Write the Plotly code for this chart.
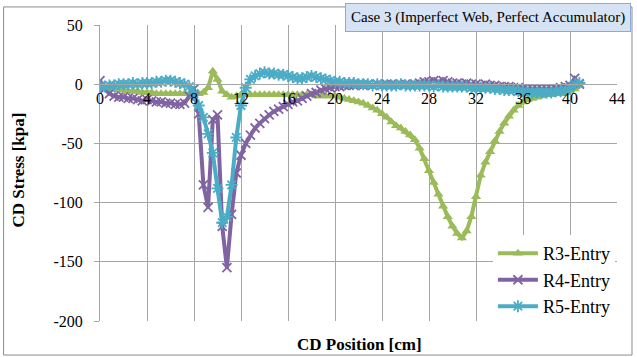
import plotly.graph_objects as go

# CD position along the web [cm]
cd_position = [
    0.0, 0.4, 0.8, 1.2, 1.6, 2.0, 2.4, 2.8, 3.2, 3.6,
    4.0, 4.4, 4.8, 5.2, 5.6, 6.0, 6.4, 6.8, 7.2, 7.6,
    8.0, 8.4, 8.8, 9.2, 9.6, 10.0, 10.4, 10.8, 11.2, 11.6,
    12.0, 12.4, 12.8, 13.2, 13.6, 14.0, 14.4, 14.8, 15.2, 15.6,
    16.0, 16.4, 16.8, 17.2, 17.6, 18.0, 18.4, 18.8, 19.2, 19.6,
    20.0, 20.4, 20.8, 21.2, 21.6, 22.0, 22.4, 22.8, 23.2, 23.6,
    24.0, 24.4, 24.8, 25.2, 25.6, 26.0, 26.4, 26.8, 27.2, 27.6,
    28.0, 28.4, 28.8, 29.2, 29.6, 30.0, 30.4, 30.8, 31.2, 31.6,
    32.0, 32.4, 32.8, 33.2, 33.6, 34.0, 34.4, 34.8, 35.2, 35.6,
    36.0, 36.4, 36.8, 37.2, 37.6, 38.0, 38.4, 38.8, 39.2, 39.6,
    40.0, 40.4, 40.8,
]

# CD stress [kPa] per roller entry
r3_entry = [
    -2, -3, -4, -4, -5, -5, -6, -6, -6, -7,
    -7, -7, -8, -8, -8, -8, -8, -8, -8, -8,
    -8, -8, -7, -3, 11, 4, -6, -9, -11, -10,
    -9, -9, -9, -9, -9, -9, -9, -9, -9, -9,
    -9, -9, -9, -9, -9, -9, -10, -10, -10, -10,
    -10, -11, -12, -13, -14, -15, -16, -18, -20, -22,
    -25, -28, -32, -35, -37, -40, -43, -47, -54, -63,
    -73, -83, -93, -103, -112, -120, -126, -130, -124, -112,
    -95, -77, -66, -57, -48, -40, -33, -27, -22, -18,
    -15, -13, -12, -11, -10, -9, -9, -8, -8, -7,
    -6, -4, -1,
]

r4_entry = [
    3, -4, -8, -10, -11, -11, -12, -12, -13, -14,
    -13, -14, -15, -15, -16, -16, -17, -17, -16, -10,
    -4, -25, -85, -104, -30, -26, -120, -155, -110, -75,
    -60, -50, -43, -37, -33, -29, -26, -23, -21, -19,
    -17, -15, -14, -12, -10, -8, -7, -5, -4, -3,
    -2, -2, -1, -1, -1, 0, -1, 0, -1, 0,
    -1, 0, 0, -1, 0, 0, -1, 0, 1, 2,
    2, 3, 2, 3, 2, 1, 1, 0, 1, 0,
    0, -1, 0, -1, -1, -2, -2, -2, -3, -3,
    -4, -4, -4, -4, -4, -4, -4, -4, -3, -2,
    -1, 5, 0,
]

r5_entry = [
    -2, -2, -1, -1, 0, 0, 0, 1, 0, 1,
    1, 1, 2, 2, 3, 3, 2, 1, 0, -2,
    -8, -18, -28, -42, -58, -88, -117, -112, -85, -45,
    -18, -3, 4, 7, 9, 10, 9, 9, 8, 8,
    7, 6, 5, 5, 6, 7, 6, 5, 4, 3,
    2, 2, 1, 1, 1, 0, 0, 0, -1, 0,
    -1, -1, -1, -1, 0, -1, -1, -1, -1, -1,
    -1, -2, -1, -2, -2, -2, -2, -2, -2, -3,
    -3, -3, -3, -3, -4, -4, -5, -5, -5, -6,
    -6, -7, -7, -7, -7, -7, -7, -6, -6, -5,
    -3, 0, 1,
]

x_ticks = [0, 4, 8, 12, 16, 20, 24, 28, 32, 36, 40, 44]
y_ticks = [50, 0, -50, -100, -150, -200]

FONT = "Times New Roman, Liberation Serif, DejaVu Serif, serif"
GRID = "#A6A6A6"

series = [
    ("R3-Entry", r3_entry, "#9BBB59", "triangle-up", 9, 0),
    ("R4-Entry", r4_entry, "#8064A2", "x-thin-open", 9, 1.8),
    ("R5-Entry", r5_entry, "#4BACC6", "asterisk-open", 10, 1.8),
]

fig = go.Figure()
for name, values, color, symbol, size, lw in series:
    fig.add_trace(go.Scatter(
        x=cd_position, y=values, name=name, mode="lines+markers",
        line=dict(color=color, width=4),
        marker=dict(symbol=symbol, size=size, color=color,
                    line=dict(color=color, width=lw)),
    ))

fig.update_layout(
    width=637, height=357,
    margin=dict(l=100, r=17, t=25, b=36),
    paper_bgcolor="white", plot_bgcolor="white",
    font=dict(family=FONT, size=17, color="black"),
    showlegend=True,
    legend=dict(
        x=0.76, y=0.29, xanchor="left", yanchor="top",
        bgcolor="white", borderwidth=0,
        font=dict(family=FONT, size=18, color="black"),
        itemwidth=40, tracegroupgap=0,
    ),
    xaxis=dict(
        range=[0, 44], tickvals=x_ticks, ticktext=[str(t) for t in x_ticks],
        showgrid=True, gridcolor=GRID, gridwidth=1,
        zeroline=False, showline=True, linecolor=GRID, linewidth=1,
        anchor="free", position=0.8, ticks="",
        tickfont=dict(family=FONT, size=16),
    ),
    yaxis=dict(
        range=[-200, 50], tickvals=y_ticks, ticktext=[str(t) for t in y_ticks],
        showgrid=True, gridcolor=GRID, gridwidth=1,
        zeroline=False, showline=True, linecolor=GRID, linewidth=1,
        ticks="outside", ticklen=5, tickcolor=GRID,
        ticklabelstandoff=8,
        tickfont=dict(family=FONT, size=16),
    ),
)

# axis titles
fig.add_annotation(
    text="<b>CD Stress [kpa]</b>", textangle=-90, showarrow=False,
    xref="paper", yref="paper", x=-0.1577, y=0.51,
    xanchor="center", yanchor="middle",
    font=dict(family=FONT, size=17, color="black"),
)
fig.add_annotation(
    text="<b>CD Position [cm]</b>", showarrow=False,
    xref="paper", yref="paper", x=0.502, y=-0.081,
    xanchor="center", yanchor="middle",
    font=dict(family=FONT, size=17, color="black"),
)

# chart title box, right-aligned so the whole text stays on the page
fig.add_annotation(
    text="Case 3 (Imperfect Web, Perfect Accumulator)", showarrow=False,
    xref="paper", yref="paper", x=1.027, y=1.027,
    xanchor="right", yanchor="middle",
    bgcolor="#D6E3F5", bordercolor="#8EA9D6", borderwidth=1, borderpad=5,
    font=dict(family=FONT, size=15, color="black"),
)

# outer chart frame
fig.add_shape(
    type="rect", xref="paper", yref="paper",
    x0=-0.1865, x1=1.029, y0=-0.115, y1=1.061,
    line=dict(color="#8C8C8C", width=1), fillcolor="rgba(0,0,0,0)",
    layer="below",
)

fig.write_html("out.html")
